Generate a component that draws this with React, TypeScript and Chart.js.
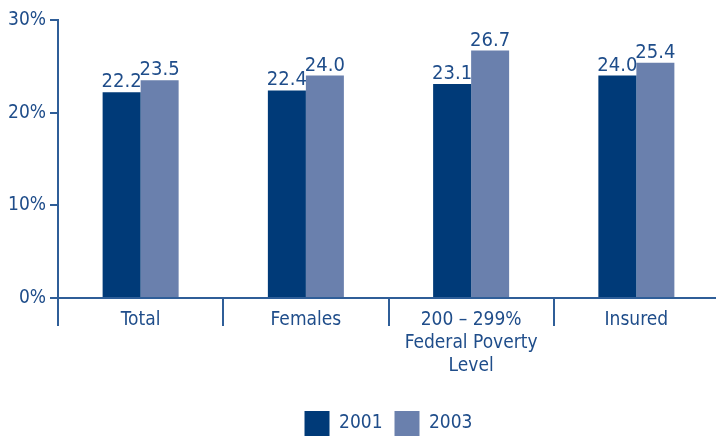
import React, { useEffect, useRef } from "react";
import { Chart, registerables } from "chart.js";

Chart.register(...registerables);

const categories = [["Total"], ["Females"], ["200 – 299%", "Federal Poverty", "Level"], ["Insured"]];
const series2001 = [22.2, 22.4, 23.1, 24.0];
const series2003 = [23.5, 24.0, 26.7, 25.4];
const seriesLabels = ["2001", "2003"];
const yMin = 0;
const yMax = 30;
const yStep = 10;

const FONT = "'DejaVu Sans Condensed', 'Liberation Sans Narrow', sans-serif";
const TEXT = "#1f4d8a";
const AXIS = "#2f5e98";
const DARK = "#003a78";
const LIGHT = "#6a80ad";

const valueLabels = {
  id: "valueLabels",
  afterDatasetsDraw(chart: any) {
    const ctx = chart.ctx;
    ctx.save();
    ctx.font = `20px ${FONT}`;
    ctx.fillStyle = TEXT;
    ctx.textAlign = "center";
    ctx.textBaseline = "alphabetic";
    chart.data.datasets.forEach((ds: any, i: number) => {
      chart.getDatasetMeta(i).data.forEach((bar: any, j: number) => {
        ctx.fillText(Number(ds.data[j]).toFixed(1), bar.x, bar.y - 5);
      });
    });
    ctx.restore();
  },
};

export default function App() {
  const ref = useRef<HTMLCanvasElement>(null);
  useEffect(() => {
    if (!ref.current) return;
    const chart = new Chart(ref.current, {
      type: "bar",
      data: {
        labels: categories,
        datasets: [
          { label: seriesLabels[0], data: series2001, backgroundColor: DARK, borderWidth: 0 },
          { label: seriesLabels[1], data: series2003, backgroundColor: LIGHT, borderWidth: 0 },
        ],
      },
      options: {
        animation: false,
        responsive: false,
        devicePixelRatio: 1,
        layout: { padding: { top: 20, right: 3, bottom: 0, left: 0 } },
        datasets: { bar: { barPercentage: 1, categoryPercentage: 0.46 } },
        plugins: {
          tooltip: { enabled: false },
          legend: {
            position: "bottom",
            fullSize: false,
            labels: {
              boxWidth: 25,
              boxHeight: 25,
              padding: 12,
              color: TEXT,
              font: { family: FONT, size: 19 },
            },
          },
        },
        scales: {
          x: {
            offset: true,
            afterFit: (s: any) => {
              s.height = 101;
            },
            border: { display: true, color: AXIS, width: 2 },
            grid: {
              display: true,
              offset: true,
              drawOnChartArea: false,
              drawTicks: true,
              tickLength: 28,
              color: AXIS,
              lineWidth: 2,
            },
            ticks: {
              color: TEXT,
              padding: -17,
              maxRotation: 0,
              autoSkip: false,
              font: { family: FONT, size: 19, lineHeight: 1.2 },
            },
          },
          y: {
            min: yMin,
            max: yMax,
            afterFit: (s: any) => {
              s.width = 58;
            },
            border: { display: true, color: AXIS, width: 2 },
            grid: {
              display: true,
              drawOnChartArea: false,
              drawTicks: true,
              tickLength: 8,
              color: AXIS,
              lineWidth: 2,
            },
            ticks: {
              stepSize: yStep,
              color: TEXT,
              padding: 4,
              font: { family: FONT, size: 19 },
              callback: (v: any) => `${v}%`,
            },
          },
        },
      },
      plugins: [valueLabels],
    });
    return () => chart.destroy();
  }, []);
  return (
    <div style={{ position: "absolute", left: 0, top: 0, width: 716, height: 436, overflow: "hidden", background: "#fff" }}>
      <canvas ref={ref} width={722} height={446} style={{ display: "block" }} />
    </div>
  );
}
